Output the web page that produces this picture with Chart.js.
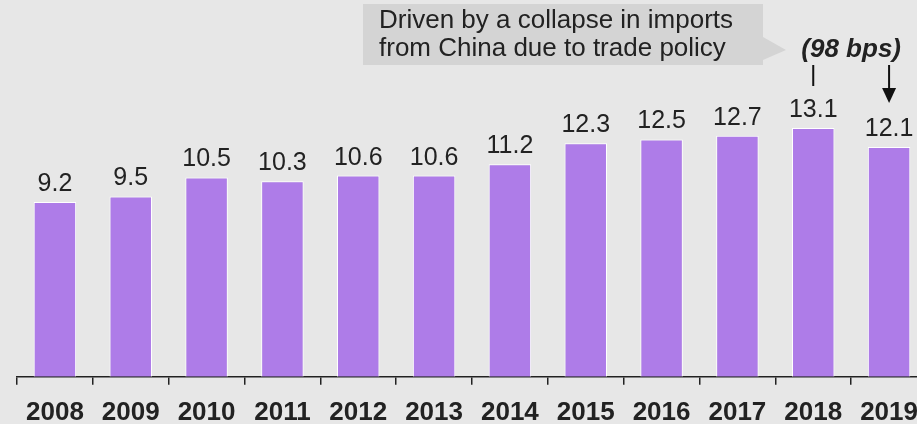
<!DOCTYPE html>
<html>
<head>
<meta charset="utf-8">
<script src="https://cdn.jsdelivr.net/npm/chart.js@4.4.1/dist/chart.umd.min.js"></script>
<style>
  html, body { margin: 0; padding: 0; background: #e7e7e7; overflow: hidden; }
  #wrap { width: 917px; height: 424px; overflow: hidden; }
</style>
</head>
<body>
<div id="wrap"><canvas id="myChart" width="930" height="442"></canvas></div>
<script>
const years = ['2008', '2009', '2010', '2011', '2012', '2013', '2014', '2015', '2016', '2017', '2018', '2019'];
const shares = [9.2, 9.5, 10.5, 10.3, 10.6, 10.6, 11.2, 12.3, 12.5, 12.7, 13.1, 12.1];
const noteLines = ['Driven by a collapse in imports', 'from China due to trade policy'];
const dropLabel = '(98 bps)';

const FONT = '"Liberation Sans", Arial, sans-serif';

// value labels over each bar
const valueLabels = {
  id: 'valueLabels',
  afterDatasetsDraw(chart) {
    const ctx = chart.ctx;
    const meta = chart.getDatasetMeta(0);
    ctx.save();
    ctx.font = '25px ' + FONT;
    ctx.fillStyle = '#222';
    ctx.textAlign = 'center';
    ctx.textBaseline = 'alphabetic';
    meta.data.forEach((bar, i) => {
      ctx.fillText(shares[i].toFixed(1), bar.x, bar.y - 11);
    });
    ctx.restore();
  }
};

// callout box + 98 bps arrow
const callout = {
  id: 'callout',
  afterDraw(chart) {
    const ctx = chart.ctx;
    const meta = chart.getDatasetMeta(0);
    const b18 = meta.data[10];
    const b19 = meta.data[11];
    ctx.save();

    // grey box with pointer
    const bx = 363, by = 4, bw = 400, bh = 61;
    ctx.fillStyle = '#d4d4d4';
    ctx.fillRect(bx, by, bw, bh);
    ctx.beginPath();
    ctx.moveTo(bx + bw, by + 33);
    ctx.lineTo(bx + bw + 23, by + 46);
    ctx.lineTo(bx + bw, by + 56);
    ctx.closePath();
    ctx.fill();

    ctx.fillStyle = '#222';
    ctx.font = '26px ' + FONT;
    ctx.textAlign = 'left';
    ctx.textBaseline = 'alphabetic';
    ctx.fillText(noteLines[0], 379, 28);
    ctx.fillText(noteLines[1], 379, 56);

    ctx.font = 'italic bold 26px ' + FONT;
    ctx.textAlign = 'center';
    ctx.fillText(dropLabel, (b18.x + b19.x) / 2, 57);

    ctx.strokeStyle = '#111';
    ctx.lineWidth = 2;
    ctx.beginPath();
    ctx.moveTo(b18.x, 65);
    ctx.lineTo(b18.x, 86);
    ctx.moveTo(b19.x, 65);
    ctx.lineTo(b19.x, 92);
    ctx.stroke();
    ctx.fillStyle = '#111';
    ctx.beginPath();
    ctx.moveTo(b19.x - 7, 88);
    ctx.lineTo(b19.x + 7, 88);
    ctx.lineTo(b19.x, 103);
    ctx.closePath();
    ctx.fill();
    ctx.restore();
  }
};

new Chart(document.getElementById('myChart'), {
  type: 'bar',
  data: {
    labels: years,
    datasets: [{
      data: shares,
      backgroundColor: '#ae7ce8',
      borderColor: '#ffffff',
      borderWidth: 1,
      categoryPercentage: 1,
      barPercentage: 0.56
    }]
  },
  options: {
    responsive: false,
    animation: false,
    layout: { padding: { left: 17, right: 0, top: 73, bottom: 2 } },
    plugins: { legend: { display: false }, tooltip: { enabled: false } },
    scales: {
      x: {
        grid: { display: true, drawOnChartArea: false, drawTicks: true, tickLength: 8, color: '#222', lineWidth: 1.5 },
        border: { display: true, color: '#222', width: 1.5 },
        ticks: { color: '#222', font: { family: FONT, size: 26, weight: 'bold' }, padding: 12, autoSkip: false, maxRotation: 0 }
      },
      y: { display: false, min: 0, max: 16 }
    }
  },
  plugins: [valueLabels, callout]
});
</script>
</body>
</html>
